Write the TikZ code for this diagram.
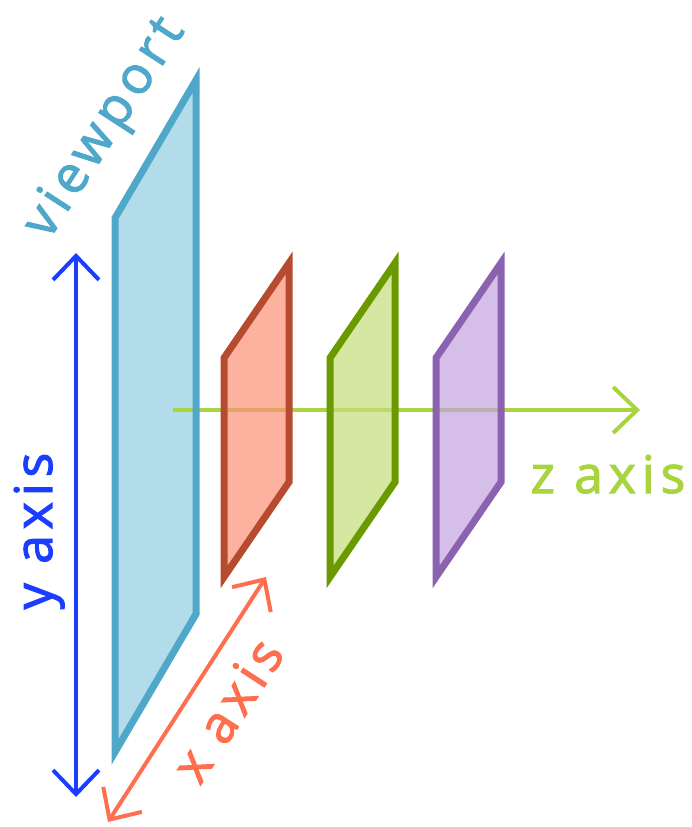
\documentclass[tikz,border=0pt]{standalone}
\usepackage{fontspec}
\setmainfont{Open Sans}[LetterSpace=11,FakeBold=2]
\usetikzlibrary{arrows.meta}
\definecolor{vpfill}{HTML}{B3DCEA}
\definecolor{vpline}{HTML}{4FA8C9}
\definecolor{redline}{HTML}{B64B30}
\definecolor{redfill}{RGB}{252,146,119}
\definecolor{greenline}{HTML}{6A9A00}
\definecolor{greenfill}{RGB}{196,221,121}
\definecolor{purpline}{HTML}{8A62AF}
\definecolor{purpfill}{RGB}{195,162,221}
\definecolor{zcol}{HTML}{A8D440}
\definecolor{xcol}{HTML}{FF6E4E}
\definecolor{ycol}{HTML}{1A3DFF}
\begin{document}
\begin{tikzpicture}[x=1pt,y=-1pt,
  plane/.style={line width=7pt,line join=miter,fill opacity=0.7},
  axisline/.style={line width=4pt,arrows={-{Straight Barb[length=24pt,width=46pt]}}},
  dblaxis/.style={line width=4pt,arrows={{Straight Barb[length=24pt,width=46pt]}-{Straight Barb[length=24pt,width=46pt]}}},
  lbl/.style={font=\fontsize{52}{60}\selectfont,inner sep=0pt}]
\useasboundingbox (0,0) rectangle (692,827);
% viewport
\coordinate (vTL) at (115,218);
\coordinate (vTR) at (196,80);
\coordinate (vBR) at (196,614);
\coordinate (vBL) at (115,752);
\fill[vpfill] (vTL) -- (vTR) -- (vBR) -- (vBL) -- cycle;
% z axis
\coordinate (zs) at (173,410);
\coordinate (ze) at (640,410);
\draw[axisline,zcol] (zs) -- (ze);
\draw[vpline,line width=7pt,line join=miter] (vTL) -- (vTR) -- (vBR) -- (vBL) -- cycle;
% planes
\foreach \dx/\fc/\lc in {0/redfill/redline,106/greenfill/greenline,212/purpfill/purpline}{
  \filldraw[plane,fill=\fc,draw=\lc] (224+\dx,358) -- (289+\dx,263) -- (289+\dx,482) -- (224+\dx,577) -- cycle;
}
% y axis
\coordinate (ytop) at (76,253);
\coordinate (ybot) at (76,797);
\draw[dblaxis,ycol] (ybot) -- (ytop);
% x axis
\coordinate (xtop) at (266,577);
\coordinate (xbot) at (108,822);
\draw[dblaxis,xcol] (xbot) -- (xtop);
% labels
\node[lbl,text=ycol,rotate=90,anchor=base] (ylab) at (52,531) {y axis};
\node[lbl,text=zcol,anchor=base] (zlab) at (608,493) {z axis};
\node[lbl,text=xcol,rotate=57] (xlab) at (227,710) {x axis};
\node[lbl,text=vpline,rotate=57] (vlab) at (106,129) {viewport};
\end{tikzpicture}
\end{document}
